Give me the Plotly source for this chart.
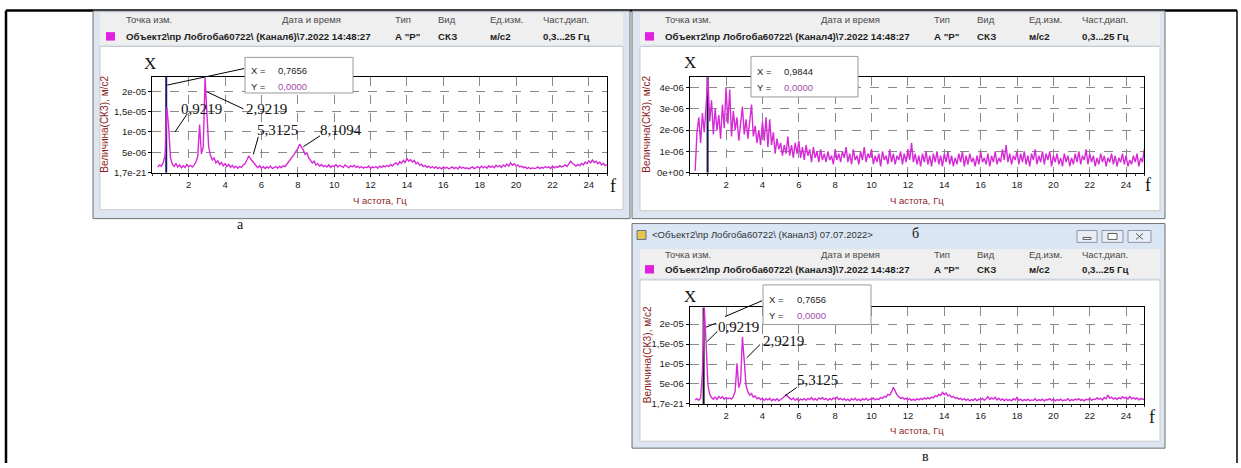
import plotly.graph_objects as go

W, H = 1241, 468

# ---------------- data ----------------
freq = [round(0.3 + 0.1 * i, 1) for i in range(248)]  # Hz, 0.3 ... 25.0

# Panel а (Канал6), amplitude in 1e-6 m/s2
amp_a_e6 = [
    1.4, 1.9, 1.6, 2.4, 4.2, 16.0, 11.2, 3.6, 2.1, 1.5,
    2.3, 1.4, 1.9, 1.2, 1.7, 1.3, 2.0, 1.5, 1.8, 1.4,
    1.9, 2.6, 4.0, 11.8, 4.6, 6.2, 23.3, 13.5, 6.4, 4.2,
    3.1, 3.6, 2.4, 2.9, 2.0, 2.5, 1.7, 2.2, 1.5, 2.0,
    1.3, 1.8, 1.2, 1.6, 1.1, 1.5, 1.3, 1.9, 2.2, 3.1,
    4.1, 3.4, 2.8, 2.1, 1.6, 1.2, 1.7, 1.1, 1.5, 1.0,
    1.4, 1.1, 1.6, 1.0, 1.3, 1.5, 1.1, 1.6, 1.2, 1.7,
    1.5, 2.1, 2.6, 3.0, 3.8, 4.5, 5.2, 5.9, 7.0, 6.3,
    5.6, 4.5, 4.9, 3.6, 3.0, 2.4, 2.8, 1.9, 2.2, 1.6,
    2.0, 1.5, 1.8, 1.4, 1.9, 1.3, 1.7, 1.5, 2.0, 1.4,
    1.8, 1.6, 1.3, 1.9, 1.5, 1.2, 1.7, 1.4, 1.8, 1.3,
    1.6, 1.2, 1.5, 1.1, 1.4, 1.2, 1.6, 1.0, 1.4, 1.2,
    1.5, 1.1, 1.6, 1.3, 1.7, 1.4, 1.8, 1.5, 2.0, 1.6,
    2.1, 2.4, 1.9, 2.7, 2.3, 3.0, 2.5, 3.5, 2.8, 3.2,
    2.6, 3.0, 2.2, 2.5, 1.8, 2.1, 1.5, 1.8, 1.3, 1.6,
    1.2, 1.5, 1.1, 1.4, 1.0, 1.3, 0.9, 1.4, 1.1, 1.3,
    0.9, 1.2, 1.4, 1.0, 1.3, 0.9, 1.5, 1.1, 1.3, 1.0,
    1.2, 0.9, 1.1, 1.4, 1.0, 1.3, 1.5, 1.1, 1.6, 1.2,
    1.5, 1.1, 1.7, 1.3, 1.6, 1.2, 1.8, 1.4, 1.7, 1.3,
    1.9, 1.5, 2.1, 1.6, 2.4, 1.8, 2.2, 1.6, 1.9, 1.4,
    1.6, 1.2, 1.4, 1.0, 1.3, 0.9, 1.2, 1.0, 1.1, 1.4,
    1.0, 1.3, 1.1, 1.5, 1.2, 1.4, 1.0, 1.6, 1.2, 1.5,
    1.3, 1.7, 1.4, 1.6, 1.9, 1.5, 2.2, 2.8, 2.3, 1.9,
    1.6, 2.0, 1.7, 2.3, 1.9, 2.6, 2.2, 2.9, 2.4, 3.1,
    2.5, 2.8, 2.2, 2.6, 1.9, 2.3, 1.7, 2.0,
]

# Panel б (Канал4)
amp_b_e6 = [
    0.1, 1.9, 2.6, 1.4, 2.8, 1.9, 3.1, 4.5, 2.4, 3.4,
    1.8, 3.0, 2.0, 2.7, 1.6, 3.2, 2.1, 4.0, 2.3, 3.9,
    1.7, 2.9, 2.0, 2.6, 1.5, 2.4, 3.1, 1.8, 2.5, 1.6,
    2.3, 3.2, 1.7, 2.2, 1.4, 2.0, 1.3, 2.4, 1.5, 2.6,
    1.2, 2.5, 1.3, 1.9, 0.9, 1.6, 1.1, 1.4, 0.8, 1.3,
    0.9, 1.7, 0.8, 1.3, 0.7, 1.4, 0.9, 1.5, 0.7, 1.2,
    0.6, 1.3, 0.8, 1.1, 0.5, 1.2, 0.7, 1.0, 0.5, 1.1,
    0.6, 0.9, 0.5, 1.0, 0.6, 0.8, 0.4, 1.1, 0.6, 0.9,
    0.5, 1.0, 0.7, 1.2, 0.5, 0.9, 0.4, 1.1, 0.6, 0.8,
    0.4, 1.0, 0.6, 1.2, 0.5, 0.9, 0.7, 1.1, 0.4, 0.8,
    0.5, 0.9, 0.3, 1.0, 0.6, 0.8, 0.4, 1.1, 0.5, 0.9,
    0.4, 0.8, 0.6, 1.0, 0.4, 0.9, 0.5, 1.1, 0.6, 1.4,
    0.5, 0.9, 0.4, 0.8, 0.3, 0.9, 0.5, 1.0, 0.4, 0.8,
    0.3, 0.9, 0.5, 1.0, 0.4, 0.8, 0.3, 0.9, 0.5, 1.0,
    0.4, 0.8, 0.3, 0.7, 0.4, 0.9, 0.5, 1.0, 0.3, 0.8,
    0.4, 0.9, 0.5, 0.7, 0.3, 0.8, 0.4, 1.0, 0.5, 0.7,
    0.4, 0.9, 0.3, 0.8, 0.5, 1.0, 0.4, 0.7, 0.5, 1.1,
    0.6, 1.3, 0.5, 0.9, 0.4, 0.8, 0.6, 1.0, 0.4, 0.9,
    0.5, 1.0, 0.4, 0.8, 0.3, 0.9, 0.6, 1.1, 0.4, 0.8,
    0.5, 1.0, 0.4, 0.9, 0.6, 1.0, 0.3, 0.8, 0.5, 0.9,
    0.4, 0.7, 0.3, 0.9, 0.5, 0.8, 0.3, 0.7, 0.4, 0.9,
    0.5, 1.0, 0.4, 0.8, 0.6, 1.1, 0.4, 0.9, 0.5, 0.8,
    0.3, 0.7, 0.4, 0.9, 0.5, 0.8, 0.3, 0.7, 0.5, 0.9,
    0.4, 0.8, 0.3, 0.7, 0.5, 0.9, 0.4, 0.8, 0.3, 0.6,
    0.4, 0.8, 0.5, 0.9, 0.3, 0.7, 0.5, 1.1,
]

# Panel в (Канал3)
amp_c_e6 = [
    1.0, 1.3, 0.9, 1.5, 7.8, 24.3, 15.6, 4.8, 2.4, 1.6,
    1.2, 1.7, 1.1, 1.9, 1.4, 1.8, 1.2, 1.6, 1.3, 1.5,
    1.2, 1.9, 3.2, 10.2, 4.1, 5.6, 16.8, 11.0, 4.6, 3.0,
    2.2, 2.6, 1.7, 2.0, 1.3, 1.6, 1.1, 1.4, 0.9, 1.3,
    1.0, 1.4, 0.8, 1.2, 0.9, 1.3, 0.8, 1.1, 1.4, 1.8,
    2.3, 1.7, 1.4, 1.1, 1.5, 0.9, 1.3, 0.8, 1.2, 1.0,
    1.3, 0.9, 1.4, 1.1, 1.6, 1.0, 1.3, 0.9, 1.5, 1.2,
    1.6, 1.1, 1.4, 0.9, 1.3, 1.0, 1.5, 1.2, 1.7, 1.1,
    1.4, 1.0, 1.3, 0.9, 1.2, 0.8, 1.3, 1.0, 1.4, 0.9,
    1.2, 0.8, 1.3, 1.0, 1.4, 0.9, 1.2, 1.1, 1.5, 1.0,
    1.3, 1.1, 1.6, 1.4, 1.9, 1.7, 2.4, 2.2, 3.0, 4.2,
    3.1, 2.3, 1.8, 1.4, 1.6, 1.2, 1.4, 1.0, 1.3, 0.9,
    1.2, 0.9, 1.3, 1.0, 1.4, 1.1, 1.5, 1.2, 1.6, 1.3,
    1.7, 1.5, 2.0, 1.8, 2.4, 2.1, 2.9, 2.3, 2.7, 2.0,
    2.2, 1.7, 1.9, 1.4, 1.6, 1.2, 1.4, 1.0, 1.3, 0.9,
    1.2, 0.8, 1.1, 0.9, 1.3, 0.8, 1.2, 1.0, 1.4, 0.9,
    1.3, 1.8, 1.1, 1.5, 1.2, 1.7, 1.0, 1.4, 0.9, 1.3,
    0.8, 1.2, 0.9, 1.1, 0.8, 1.3, 1.0, 1.6, 0.9, 1.2,
    0.8, 1.1, 0.9, 1.2, 0.8, 1.0, 0.9, 1.3, 0.8, 1.1,
    0.9, 1.2, 0.8, 1.1, 1.0, 1.3, 0.9, 1.2, 0.8, 1.1,
    0.9, 1.2, 0.8, 1.0, 0.9, 1.3, 0.8, 1.1, 0.9, 1.2,
    1.0, 1.3, 0.9, 1.1, 0.8, 1.2, 1.0, 1.4, 0.9, 1.2,
    1.1, 1.5, 1.2, 1.4, 1.0, 1.6, 1.3, 2.2, 1.4, 1.7,
    1.2, 1.5, 1.1, 1.6, 1.3, 1.8, 1.4, 1.7, 1.2, 1.9,
    1.3, 1.6, 1.2, 1.5, 1.0, 1.4, 1.1, 1.3,
]

cursor_a = 0.7656
cursor_b = 0.9844
cursor_c = 0.7656

x_tick_vals = [2, 4, 6, 8, 10, 12, 14, 16, 18, 20, 22, 24]
x_tick_text = ["2", "4", "6", "8", "10", "12", "14", "16", "18", "20", "22", "24"]
y_tick_vals_ac = [0, 5e-6, 1e-5, 1.5e-5, 2e-5]
y_tick_text_ac = ["1,7e-21", "5e-06", "1e-05", "1,5e-05", "2e-05"]
y_tick_vals_b = [0, 1e-6, 2e-6, 3e-6, 4e-6]
y_tick_text_b = ["0e+00", "1e-06", "2e-06", "3e-06", "4e-06"]

amp_a = [v * 1e-6 for v in amp_a_e6]
amp_b = [v * 1e-6 for v in amp_b_e6]
amp_c = [v * 1e-6 for v in amp_c_e6]

# ---------------- helpers ----------------
def px(x):
    return x / W


def py(y):
    return 1 - y / H


UI = "Liberation Sans"
SERIF = "Liberation Serif"
TRACE = "#d62ad6"
AXT = "#8b1c1c"

# plot areas in pixels (x0, y0, x1, y1)
PA = (152.3, 77.5, 607.0, 174.5)
PB = (689.7, 77.5, 1144.3, 174.7)
PC = (689.7, 310.7, 1144.3, 408.3)

TICKFONT = dict(family=UI, size=9.5, color="#1a1a1a")


def xaxis_cfg(area, anchor):
    return dict(
        domain=[px(area[0]), px(area[2])], anchor=anchor, range=[0, 25],
        tickmode="array", tickvals=x_tick_vals, ticktext=x_tick_text,
        showgrid=True, gridcolor="#8a8a8a", griddash="dash", gridwidth=1,
        showline=True, linecolor="black", linewidth=1.2, mirror=True,
        ticks="outside", ticklen=3, tickcolor="black",
        tickfont=TICKFONT,
        zeroline=False, fixedrange=True,
        minor=dict(dtick=0.5, ticks="outside", ticklen=2, tickcolor="#333", showgrid=False),
    )


def yaxis_cfg(area, anchor, rng, vals, texts):
    return dict(
        domain=[py(area[3]), py(area[1])], anchor=anchor, range=rng,
        tickmode="array", tickvals=vals, ticktext=texts,
        showgrid=True, gridcolor="#8a8a8a", griddash="dash", gridwidth=1,
        showline=True, linecolor="black", linewidth=1.2, mirror=True,
        ticks="outside", ticklen=3, tickcolor="black",
        tickfont=TICKFONT,
        zeroline=False, fixedrange=True,
    )


fig = go.Figure()

# cursor lines (drawn first so the spectrum covers them)
fig.add_trace(go.Scatter(x=[cursor_a, cursor_a], y=[0, 2.36e-5], mode="lines",
                         line=dict(color="#1b1b66", width=2), xaxis="x", yaxis="y", hoverinfo="skip"))
fig.add_trace(go.Scatter(x=[cursor_b, cursor_b], y=[0, 4.5e-6], mode="lines",
                         line=dict(color="#15154a", width=2), xaxis="x2", yaxis="y2", hoverinfo="skip"))
fig.add_trace(go.Scatter(x=[cursor_c, cursor_c], y=[0, 2.42e-5], mode="lines",
                         line=dict(color="#111111", width=2), xaxis="x3", yaxis="y3", hoverinfo="skip"))

# spectra
fig.add_trace(go.Scatter(x=freq, y=amp_a, mode="lines", line=dict(color=TRACE, width=1.4),
                         xaxis="x", yaxis="y"))
fig.add_trace(go.Scatter(x=freq, y=amp_b, mode="lines", line=dict(color=TRACE, width=1.4),
                         xaxis="x2", yaxis="y2"))
fig.add_trace(go.Scatter(x=freq, y=amp_c, mode="lines", line=dict(color=TRACE, width=1.4),
                         xaxis="x3", yaxis="y3"))

shapes = []


def rect(x0, y0, x1, y1, fill, line=None, lw=1, layer="below"):
    shapes.append(dict(type="rect", xref="paper", yref="paper",
                       x0=px(x0), x1=px(x1), y0=py(y1), y1=py(y0),
                       fillcolor=fill, line=dict(color=line or fill, width=lw if line else 0),
                       layer=layer))


def seg(x0, y0, x1, y1, color="black", lw=1, layer="above"):
    shapes.append(dict(type="line", xref="paper", yref="paper",
                       x0=px(x0), x1=px(x1), y0=py(y0), y1=py(y1),
                       line=dict(color=color, width=lw), layer=layer))


FRAME = "#dde6f0"
# outer black frame of the figure cell
seg(6, 10.5, 1237, 10.5, "black", 2.5, "below")
seg(6, 10.5, 6, 468, "black", 2.5, "below")
seg(1237, 10.5, 1237, 468, "black", 1.5, "below")

# window а
rect(93, 11, 630, 221, FRAME, "#6e6e6e")
rect(100, 13, 623, 45, "#efefef")
rect(100, 47, 623, 212, "white", "#c9c9c9")
# window б
rect(632, 11, 1165, 221, FRAME, "#6e6e6e")
rect(640, 13, 1160, 45, "#efefef")
rect(640, 47, 1160, 213, "white", "#c9c9c9")
# window в
rect(632, 226, 1165, 453, FRAME, "#6e6e6e")
rect(633, 227, 1164, 251, "#dbe6f4")
rect(640, 252, 1160, 281, "#efefef")
rect(640, 283, 1160, 446, "white", "#c9c9c9")
# title-bar icon and buttons of window в
rect(637, 233, 646, 242, "#e9c445", "#5a6f9a")
rect(1077, 233, 1097, 245, "#e9eef6", "#8b97a8")
rect(1102, 233, 1123, 245, "#e9eef6", "#8b97a8")
rect(1128, 233, 1151, 245, "#e9eef6", "#8b97a8")
rect(1083, 240, 1091, 242, "#ffffff", "#5a5a5a")
rect(1108, 236, 1117, 242, "#ffffff", "#5a5a5a")
seg(1136, 236, 1143, 242, "#5a5a5a", 1, "below")
seg(1136, 242, 1143, 236, "#5a5a5a", 1, "below")

# legend squares in headers
rect(106, 32.5, 115, 41, "#e01fe0")
rect(645, 32.5, 654, 41, "#e01fe0")
rect(645, 268, 654, 276.5, "#e01fe0")

# cursor value boxes (above the plot)
rect(245, 58, 353, 94, "white", "#9a9a9a", 1, "above")
rect(751, 57, 858, 98, "white", "#9a9a9a", 1, "above")
rect(763, 288, 871, 328, "white", "#9a9a9a", 1, "above")

# leader lines
seg(167.3, 86, 244, 69.3)
seg(206.7, 92.7, 243.3, 110)
seg(187.3, 115, 175, 133.3)
seg(258.3, 138.3, 253.3, 156)
seg(320, 137.3, 303.3, 148.3)
seg(725, 320, 762, 304)
seg(706, 330.7, 716, 326.7)
seg(717.3, 335, 707.3, 345)
seg(760, 348.3, 746.7, 361.7)
seg(796.7, 391.7, 785, 400)

annotations = []


def txt(x, y, s, size=9.5, family=UI, color="#333333", xanchor="left", angle=0):
    annotations.append(dict(xref="paper", yref="paper", x=px(x), y=py(y), text=s,
                            showarrow=False, xanchor=xanchor, yanchor="middle",
                            textangle=angle, borderpad=0,
                            font=dict(family=family, size=size, color=color)))


def header(dx, y1, y2, channel):
    txt(125 + dx, y1, "Точка изм.", color="#4a4a4a")
    txt(281 + dx, y1, "Дата и время", color="#4a4a4a")
    txt(394 + dx, y1, "Тип", color="#4a4a4a")
    txt(437 + dx, y1, "Вид", color="#4a4a4a")
    txt(489 + dx, y1, "Ед.изм.", color="#4a4a4a")
    txt(542 + dx, y1, "Част.диап.", color="#4a4a4a")
    txt(125 + dx, y2, "<b>Объект2\\пр Лобгоба60722\\ (" + channel + ")\\7.2022 14:48:27</b>",
        size=9.7, color="#1e1e1e")
    txt(394 + dx, y2, "<b>А \"Р\"</b>", size=9.7, color="#1e1e1e")
    txt(437 + dx, y2, "<b>СКЗ</b>", size=9.7, color="#1e1e1e")
    txt(489 + dx, y2, "<b>м/с2</b>", size=9.7, color="#1e1e1e")
    txt(542 + dx, y2, "<b>0,3...25 Гц</b>", size=9.7, color="#1e1e1e")


header(0, 20, 37, "Канал6")
header(539, 20, 37, "Канал4")
header(539, 257, 272.5, "Канал3")

txt(651, 237.5, "<Объект2\\пр Лобгоба60722\\ (Канал3) 07.07.2022>", color="#333333")

# cursor box texts
VIOLET = "#a64bb0"
txt(250, 71, "X =", color="#222")
txt(277, 71, "0,7656", color="#222")
txt(250, 87, "Y =", color="#222")
txt(277, 87, "0,0000", color=VIOLET)
txt(756, 72, "X =", color="#222")
txt(783, 72, "0,9844", color="#222")
txt(756, 88, "Y =", color="#222")
txt(783, 88, "0,0000", color=VIOLET)
txt(768, 303, "X =", color="#222")
txt(796, 303, "0,7656", color="#222")
txt(768, 319, "Y =", color="#222")
txt(796, 319, "0,0000", color=VIOLET)

# axis titles
txt(105, 126, "Величина(СКЗ), м/с2", size=10, color=AXT, xanchor="center", angle=-90)
txt(647, 126, "Величина(СКЗ), м/с2", size=10, color=AXT, xanchor="center", angle=-90)
txt(647, 359, "Величина(СКЗ), м/с2", size=10, color=AXT, xanchor="center", angle=-90)
txt(380, 202.5, "Ч астота, Гц", size=9.5, color=AXT, xanchor="center")
txt(917, 202.5, "Ч астота, Гц", size=9.5, color=AXT, xanchor="center")
txt(917, 435, "Ч астота, Гц", size=9.5, color=AXT, xanchor="center")

# handwritten-style labels
for (x, y) in [(150, 64), (690, 63.5), (690, 300)]:
    txt(x, y, "X", size=17, family=SERIF, color="#111", xanchor="center")
for (x, y) in [(613.3, 188), (1147.7, 187.3), (1151.7, 421.7)]:
    txt(x, y, "f", size=18, family=SERIF, color="#111", xanchor="center")

txt(201, 110.5, "0,9219", size=15, family=SERIF, color="#111", xanchor="center")
txt(266.7, 110.5, "2,9219", size=15, family=SERIF, color="#111", xanchor="center")
txt(277.5, 131.7, "5,3125", size=15, family=SERIF, color="#111", xanchor="center")
txt(340.5, 131.7, "8,1094", size=15, family=SERIF, color="#111", xanchor="center")
txt(738.3, 330.2, "0,9219", size=15, family=SERIF, color="#111", xanchor="center")
txt(783.8, 344.2, "2,9219", size=15, family=SERIF, color="#111", xanchor="center")
txt(817.7, 384.2, "5,3125", size=15, family=SERIF, color="#111", xanchor="center")

txt(240, 227, "а", size=14, family=SERIF, color="#111", xanchor="center")
txt(916, 236, "б", size=14, family=SERIF, color="#111", xanchor="center")
txt(925, 461, "в", size=14, family=SERIF, color="#111", xanchor="center")

fig.update_layout(
    width=W, height=H, margin=dict(l=0, r=0, t=0, b=0),
    paper_bgcolor="white", plot_bgcolor="#fdfdee",
    showlegend=False,
    xaxis=xaxis_cfg(PA, "y"),
    yaxis=yaxis_cfg(PA, "x", [0, 2.36e-5], y_tick_vals_ac, y_tick_text_ac),
    xaxis2=xaxis_cfg(PB, "y2"),
    yaxis2=yaxis_cfg(PB, "x2", [0, 4.5e-6], y_tick_vals_b, y_tick_text_b),
    xaxis3=xaxis_cfg(PC, "y3"),
    yaxis3=yaxis_cfg(PC, "x3", [0, 2.42e-5], y_tick_vals_ac, y_tick_text_ac),
    shapes=shapes, annotations=annotations,
)

fig.write_html("out.html", config={"displayModeBar": False})
